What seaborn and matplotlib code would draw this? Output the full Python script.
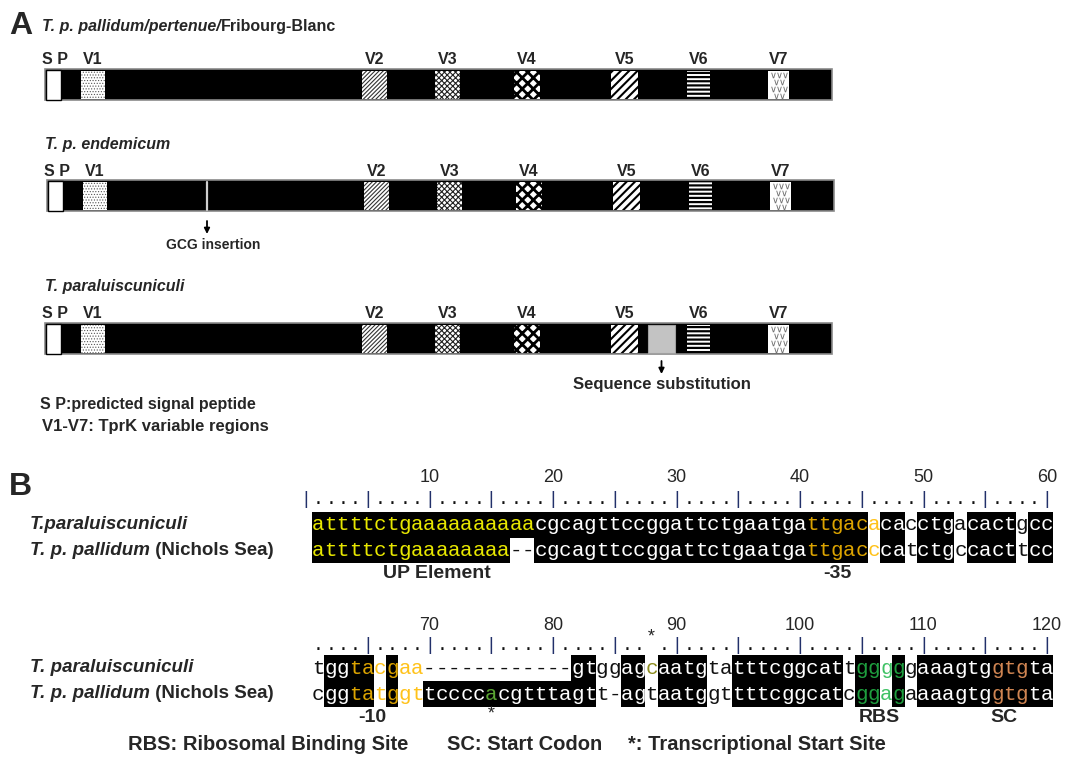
import numpy as np
import pandas as pd
import matplotlib
matplotlib.use("Agg")
import matplotlib.pyplot as plt
from matplotlib.colors import ListedColormap
from matplotlib.patches import Rectangle
import seaborn as sns

sns.set_style("white")
plt.rcParams["font.family"] = ["Liberation Sans", "DejaVu Sans"]
plt.rcParams["hatch.linewidth"] = 1.0
MONO = "Liberation Mono"

# ---------------- panel A: TprK schematic (positions along the bar) ----------------
strain_titles = [("T. p. pallidum/pertenue/", "Fribourg-Blanc"),
                 ("T. p. endemicum", ""),
                 ("T. paraluiscuniculi", "")]
bar_span = [45, 832]
region_labels = ["S P", "V1", "V2", "V3", "V4", "V5", "V6", "V7"]
region_start = [46, 81, 362, 435, 514, 611, 687, 768]
region_end = [61, 105, 387, 460, 540, 638, 710, 789]
row_shift = [0, 2, 0]
gcg_insertion_pos = 207
substitution_span = [648, 675]

# ---------------- panel B: promoter alignment ----------------
seq_names = ["T.paraluiscuniculi", "T. p. pallidum"]
block_start = [1, 61]
block1_seqs = ["attttctg" + "aaaaaaaaaa" + "cgcagttccggattctgaatga" + "ttgaca" + "cacctgacactgcc",
               "attttctg" + "aaaaaaaa" + "--" + "cgcagttccggattctgaatga" + "ttgacc" + "catctgccacttcc"]
block2_seqs = ["tggtacgaa" + "------------" + "gtggagcaatgta" + "tttcggcat" + "t" + "gggg" + "g" + "aaagtggtgta",
               "cggtatggt" + "tccccacgtttagt" + "t-agtaatggt" + "tttcggcat" + "c" + "ggag" + "a" + "aaagtggtgta"]
# '#' = black shaded cell
block1_shade = ["#" * 45 + "." + "##" + "." + "###" + "." + "####" + "." + "##",
                "#" * 16 + ".." + "#" * 27 + "." + "##" + "." + "###" + "." + "####" + "." + "##"]
block2_shade = ["." + "####" + "." + "#" + ".." + "." * 12 + "##" + ".." + "##" + "." + "####" + ".."
                + "#" * 9 + "." + "##" + "." + "#" + "." + "#" * 11,
                "." + "####" + "." + "#" + ".." + "#" * 12 + "##" + ".." + "##" + "." + "####" + ".."
                + "#" * 9 + "." + "##" + "." + "#" + "." + "#" * 11]
# letter colour codes ('.' = plain)
block1_code = ["y" * 18 + "." * 22 + "o" * 5 + "l" + "." * 14,
               "y" * 16 + "." * 24 + "o" * 5 + "l" + "." * 14]
block2_code = [".." + "." + "oo" + "l" + "o" + "ll" + "." * 18 + "v" + "." * 16 + "gg" + "G" + "g" + "." * 7 + "bbb" + "..",
               "..." + "oo" + "l" + "o" + "ll" + "." * 5 + "e" + "." * 29 + "gg" + "G" + "g" + "." * 7 + "bbb" + ".."]
block1_sites = [("UP Element", 10.6), ("-35", 43.0)]
block2_sites = [("-10", 65.4), ("RBS", 106.4), ("SC", 116.5)]
tss_ruler_pos = 88
tss_below_pos = 75
footnotes = [("RBS: Ribosomal Binding Site", 128), ("SC: Start Codon", 447),
             ("*: Transcriptional Start Site", 628)]

code_colors = {"y": "#E8E800", "o": "#DDA400", "l": "#FFC21A", "g": "#1E9E3E",
               "G": "#3FC265", "v": "#8C8C1E", "e": "#5AA532", "b": "#D08552"}

for s in block1_seqs + block2_seqs + block1_shade + block2_shade + block1_code + block2_code:
    assert len(s) == 60, len(s)

# ---------------- figure ----------------
W, H = 1070, 759
fig = plt.figure(figsize=(W / 100, H / 100), dpi=100)
ax = fig.add_axes([0, 0, 1, 1])
ax.set_xlim(0, W)
ax.set_ylim(H, 0)
ax.axis("off")

ax.text(9, 26, "A", fontsize=23, fontweight="bold", va="center")

title_y = [27, 144, 286]
bar_top = [69, 180, 323]
bar_h = 31

styles = {
    "S P": dict(fc="white", ec="black", hatch=None, hlw=None),
    "V1": dict(fc="white", ec="#555555", hatch="......", hlw=0.5),
    "V2": dict(fc="white", ec="#333333", hatch="////////", hlw=0.8),
    "V3": dict(fc="white", ec="#222222", hatch="xxxxxx", hlw=0.8),
    "V4": dict(fc="white", ec="black", hatch="xxx", hlw=2.0),
    "V5": dict(fc="white", ec="black", hatch="////", hlw=1.5),
    "V6": dict(fc="white", ec="black", hatch="----", hlw=1.6),
    "V7": dict(fc="white", ec="white", hatch=None, hlw=None),
}

for i, (ital, plain) in enumerate(strain_titles):
    t = ax.text(42 if i == 0 else 45, title_y[i], ital, fontsize=11.5, fontweight="bold",
                style="italic", va="center")
    if plain:
        ax.annotate(plain, xy=(1, 0), xycoords=t, ha="left", va="bottom",
                    fontsize=11.5, fontweight="bold")
    top = bar_top[i]
    dx = row_shift[i]
    ax.add_patch(Rectangle((bar_span[0] + dx, top), bar_span[1] - bar_span[0], bar_h,
                           fc="black", ec="#8a8a8a", lw=1.2, zorder=1))
    for lab, x0, x1 in zip(region_labels, region_start, region_end):
        x0 += dx
        x1 += dx
        st = styles[lab]
        inset = 0.5 if lab == "S P" else 1.5
        p = Rectangle((x0, top + inset), x1 - x0, bar_h - 2 * inset, fc=st["fc"], ec=st["ec"],
                      lw=1.0 if lab == "S P" else 0, hatch=st["hatch"], zorder=2)
        if st["hlw"] and hasattr(p, "set_hatch_linewidth"):
            p.set_hatch_linewidth(st["hlw"])
        ax.add_patch(p)
        if lab == "V7":
            xs, ys = [], []
            for r, fy in enumerate([0.2, 0.42, 0.64, 0.86]):
                cols = [0.22, 0.52, 0.82] if r % 2 == 0 else [0.37, 0.67]
                for fx in cols:
                    xs.append(x0 + fx * (x1 - x0))
                    ys.append(top + fy * bar_h)
            ax.scatter(xs, ys, marker=r"$\vee$", s=16, color="#707070", zorder=3, linewidths=0)
        ax.text((x0 + x1) / 2 + (2 if lab == "S P" else 0), top - 9, lab, ha="center", va="center",
                fontsize=11.5, fontweight="bold")

# GCG insertion (endemicum)
top = bar_top[1]
ax.plot([gcg_insertion_pos, gcg_insertion_pos], [top + 1.5, top + bar_h - 1.5], color="#cfcfcf", lw=1.6, zorder=3)
ax.annotate("", xy=(gcg_insertion_pos, 234), xytext=(gcg_insertion_pos, 221),
            arrowprops=dict(arrowstyle="-|>", color="black", lw=1.3, mutation_scale=8, shrinkA=0, shrinkB=0))
ax.text(gcg_insertion_pos + 6, 245, "GCG insertion", ha="center", va="center", fontsize=10, fontweight="bold")

# sequence substitution (paraluiscuniculi)
top = bar_top[2]
ax.add_patch(Rectangle((substitution_span[0], top + 1.5), substitution_span[1] - substitution_span[0],
                       bar_h - 3, fc="#c3c3c3", ec="#a0a0a0", lw=0.8, zorder=2))
sub_x = sum(substitution_span) / 2
ax.annotate("", xy=(sub_x, 374), xytext=(sub_x, 361),
            arrowprops=dict(arrowstyle="-|>", color="black", lw=1.3, mutation_scale=8, shrinkA=0, shrinkB=0))
ax.text(sub_x, 385, "Sequence substitution", ha="center", va="center", fontsize=12, fontweight="bold")

ax.text(40, 405, "S P:predicted signal peptide", va="center", fontsize=11.5, fontweight="bold")
ax.text(42, 426, "V1-V7: TprK variable regions", va="center", fontsize=12, fontweight="bold")

# ---------------- panel B ----------------
ax.text(9, 487, "B", fontsize=23, fontweight="bold", va="center")

seq_x0, cell_w = 312, 12.35
block_tops = [512, 655]
cell_hs = [25.5, 26.0]
blocks = [(block1_seqs, block1_shade, block1_code, block1_sites),
          (block2_seqs, block2_shade, block2_code, block2_sites)]
ruler_y = [500, 645]
number_y = [477, 626]
site_y = [573, 717]

for b, (seqs, shades, codes, sites) in enumerate(blocks):
    top_px, ch = block_tops[b], cell_hs[b]
    axb = fig.add_axes([seq_x0 / W, 1 - (top_px + 2 * ch) / H, 60 * cell_w / W, 2 * ch / H])
    mat = pd.DataFrame([[int(c == "#") for c in s] for s in shades], index=seq_names)
    sns.heatmap(mat, ax=axb, cmap=ListedColormap(["white", "black"]), vmin=0, vmax=1,
                cbar=False, xticklabels=False, yticklabels=False, linewidths=0)
    axb.tick_params(length=0)

    def yd(px):
        return (px - top_px) / ch

    for r in range(2):
        for j, letter in enumerate(seqs[r]):
            shaded = shades[r][j] == "#"
            code = codes[r][j]
            color = code_colors.get(code, "white" if shaded else "#111111")
            axb.text(j + 0.5, r + 0.5, letter, ha="center", va="center", family=MONO,
                     fontsize=15, color=color)

    first = block_start[b]
    cols = list(range(-1, 60)) if b == 0 else list(range(60))
    for j in cols:
        pos = first + j
        if b == 1 and pos == tss_ruler_pos:
            # transcriptional start site marked in the ruler
            axb.text(j + 0.5, yd(637), "*", ha="center", va="center", family=MONO,
                     fontsize=13, clip_on=False)
            continue
        mark = "|" if pos % 5 == 0 else "."
        axb.text(j + 0.5, yd(ruler_y[b]), mark, ha="center", va="center", family=MONO,
                 fontsize=13, color="#22306a" if mark == "|" else "#111111", clip_on=False)
        if pos % 10 == 0 and pos > 0:
            axb.text(j + 0.5, yd(number_y[b]), str(pos), ha="center", va="center",
                     fontsize=13, clip_on=False)
    for lab, pos in sites:
        axb.text(pos - first + 0.5, yd(site_y[b]), lab, ha="center", va="center",
                 fontsize=14, fontweight="bold", clip_on=False)
    if b == 1:
        axb.text(tss_below_pos - first + 0.5, yd(714), "*", ha="center", va="center",
                 family=MONO, fontsize=13, clip_on=False)

    # row labels
    for r in range(2):
        yc = top_px + (r + 0.5) * ch
        name = seq_names[r] if b == 0 or r == 1 else "T. paraluiscuniculi"
        t = ax.text(30, yc, name, ha="left", va="center", fontsize=13.5,
                    fontweight="bold", style="italic")
        if r == 1:
            ax.annotate(" (Nichols Sea)", xy=(1, 0), xycoords=t, ha="left", va="bottom",
                        fontsize=13.5, fontweight="bold")

for txt, x in footnotes:
    ax.text(x, 745, txt, ha="left", va="center", fontsize=14.5, fontweight="bold")

fig.savefig("out.png", dpi=100)
